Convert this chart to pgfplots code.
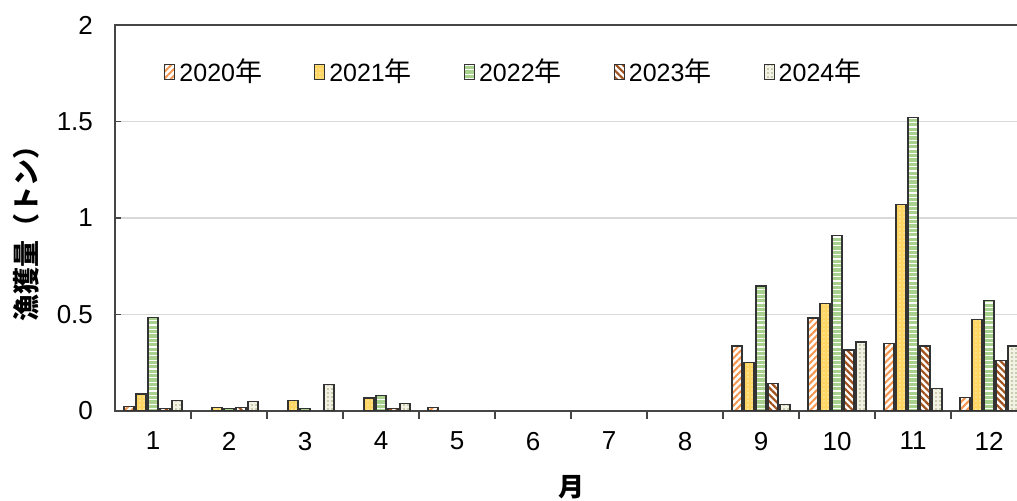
\documentclass[border=0pt]{standalone}
\usepackage{fontspec}
\setmainfont{Liberation Sans}
\newfontfamily\jp{Noto Sans CJK JP}
\usepackage{pgfplots}
\pgfplotsset{compat=1.18}
\usetikzlibrary{patterns.meta}

\definecolor{c20}{RGB}{244,150,80}
\definecolor{c21}{RGB}{255,214,100}
\definecolor{c22}{RGB}{169,209,142}
\definecolor{c23}{RGB}{160,82,30}
\definecolor{c24}{RGB}{242,242,228}
\definecolor{c24d}{RGB}{165,165,125}
\definecolor{axisgray}{RGB}{70,70,70}

\newcommand{\nen}{{\jp\fontsize{13.5}{14}\selectfont 年}}

\begin{document}
\begin{tikzpicture}
\begin{axis}[
    scale only axis,
    width=456pt, height=193pt,
    xmin=0.5, xmax=12.5,
    ymin=0, ymax=2,
    ybar=1pt, bar width=5pt,
    xtick={1,...,12},
    minor xtick={1.5,2.5,...,11.5},
    ytick={0,0.5,1,1.5,2},
    xtick pos=bottom, ytick pos=left,
    major x tick style={draw=none},
    minor tick length=4pt,
    major tick length=3pt,
    tick style={axisgray, line width=0.6pt},
    axis line style={axisgray, line width=0.6pt},
    ymajorgrids,
    major grid style={gray!30, line width=0.8pt},
    /pgf/number format/assume math mode=true,
    tick label style={font=\fontsize{13}{15}\selectfont},
    yticklabel style={xshift=-7.5pt},
    xticklabel style={yshift=-4pt},
    ylabel={\jp\bfseries 漁獲量（トン）},
    ylabel style={at={(axis description cs:0,0.5)}, anchor=center, yshift=44.5pt, xshift=-4.5pt, font=\fontsize{13.5}{15}\selectfont},
    xlabel={\jp\bfseries 月},
    xlabel style={at={(axis description cs:0.5,0)}, anchor=center, yshift=-38pt, font=\fontsize{13}{15}\selectfont},
    legend columns=5,
    legend style={at={(0.047,0.878)}, anchor=west, draw=none, fill=none,
        font=\fontsize{12.5}{14}\selectfont,
        /tikz/every even column/.append style={column sep=24pt}},
    legend image code/.code={\draw[#1] (0pt,-3.75pt) rectangle (5pt,3.75pt);},
    every axis plot/.append style={draw=black!80, line width=0.6pt},
]
\addplot[fill=white, postaction={pattern={Lines[angle=45,distance=2.4pt,line width=1pt]}, pattern color=c20}]
  coordinates {(1,0.025)(5,0.019)(9,0.337)(10,0.482)(11,0.351)(12,0.069)};
\addplot[fill=c21, postaction={pattern={Dots[distance=2pt,radius=0.35pt]}, pattern color=white}]
  coordinates {(1,0.088)(2,0.019)(3,0.055)(4,0.067)(9,0.252)(10,0.558)(11,1.069)(12,0.475)};
\addplot[fill=c22, postaction={pattern={Lines[angle=0,distance=2.2pt,line width=0.6pt]}, pattern color=white}]
  coordinates {(1,0.483)(2,0.012)(3,0.012)(4,0.081)(9,0.648)(10,0.910)(11,1.520)(12,0.572)};
\addplot[fill=white, postaction={pattern={Lines[angle=-45,distance=2.4pt,line width=1.1pt]}, pattern color=c23}]
  coordinates {(1,0.012)(2,0.019)(4,0.012)(9,0.143)(10,0.316)(11,0.337)(12,0.261)};
\addplot[fill=c24, postaction={pattern={Dots[distance=2pt,radius=0.4pt]}, pattern color=c24d}]
  coordinates {(1,0.055)(2,0.048)(3,0.138)(4,0.040)(9,0.035)(10,0.357)(11,0.116)(12,0.337)};
\legend{2020\nen, 2021\nen, 2022\nen, 2023\nen, 2024\nen}
\end{axis}
\pgfresetboundingbox
\path[use as bounding box] (-57.5pt,-45pt) rectangle (451pt,205.5pt);
\end{tikzpicture}
\end{document}
